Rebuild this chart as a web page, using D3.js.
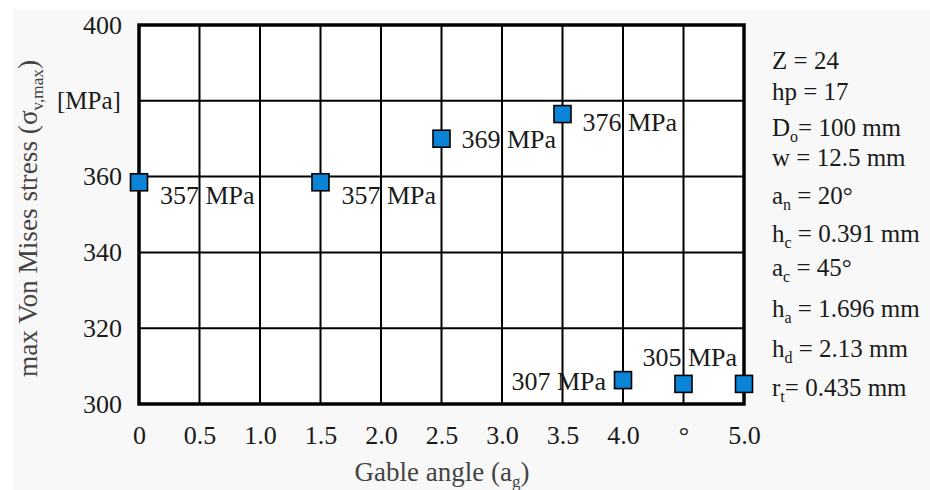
<!DOCTYPE html>
<html>
<head>
<meta charset="utf-8">
<script src="https://cdn.jsdelivr.net/npm/d3@7"></script>
<style>
  body { margin: 0; background: #fff; }
  svg { display: block; }
  svg text { font-family: "Liberation Serif", "Times New Roman", serif; }
</style>
</head>
<body>
<svg id="chart" width="930" height="490"></svg>
<script>
// gable angle vs stress
var angles = [0, 1.5, 2.5, 3.5, 4.0, 4.5, 5.0];
var stress = [358.5, 358.5, 370, 376.5, 306.3, 305.3, 305.3];
var stressLabels = ["357 MPa", "357 MPa", "369 MPa", "376 MPa", "307 MPa", "305 MPa", ""];
var xTicks = [0, 0.5, 1.0, 1.5, 2.0, 2.5, 3.0, 3.5, 4.0, 4.5, 5.0];
var xTickLabels = ["0", "0.5", "1.0", "1.5", "2.0", "2.5", "3.0", "3.5", "4.0", "°", "5.0"];
var yTicks = [300, 320, 340, 360, 380, 400];
var yTickLabels = ["300", "320", "340", "360", "", "400"];
// right side parameters: [main, subscript, rest]
var params = [
  ["Z", "", " = 24"],
  ["hp", "", " = 17"],
  ["D", "o", "= 100 mm"],
  ["w", "", " = 12.5 mm"],
  ["a", "n", " = 20°"],
  ["h", "c", " = 0.391 mm"],
  ["a", "c", " = 45°"],
  ["h", "a", " = 1.696 mm"],
  ["h", "d", " = 2.13 mm"],
  ["r", "t", "= 0.435 mm"]
];
var paramY = [60, 91, 127, 157, 195, 233, 267, 308, 348, 387];

var svg = d3.select("#chart");
var margin = {top: 25, left: 139, right: 186, bottom: 86};
var width = 930 - margin.left - margin.right,
    height = 490 - margin.top - margin.bottom;

svg.append("rect").attr("x", 13).attr("y", 10).attr("width", 917).attr("height", 480).attr("fill", "#f8f8f8");

var x = d3.scaleLinear().domain([0, 5]).range([0, width]);
var y = d3.scaleLinear().domain([300, 400]).range([height, 0]);

var g = svg.append("g").attr("transform", "translate(" + margin.left + "," + margin.top + ")");

g.append("rect").attr("width", width).attr("height", height).attr("fill", "#fff");

// grid
g.append("g")
  .selectAll("line")
  .data(xTicks)
  .enter().append("line")
    .attr("x1", d => x(d)).attr("x2", d => x(d))
    .attr("y1", 0).attr("y2", height)
    .attr("stroke", "#000").attr("stroke-width", 2);
g.append("g")
  .selectAll("line")
  .data(yTicks)
  .enter().append("line")
    .attr("y1", d => y(d)).attr("y2", d => y(d))
    .attr("x1", 0).attr("x2", width)
    .attr("stroke", "#000").attr("stroke-width", 2);

g.append("rect").attr("width", width).attr("height", height)
  .attr("fill", "none").attr("stroke", "#000").attr("stroke-width", 3.5);

// axes (labels only)
var xAxis = g.append("g")
  .attr("transform", "translate(0," + height + ")")
  .call(d3.axisBottom(x).tickValues(xTicks).tickSize(0).tickPadding(22)
    .tickFormat((d, i) => xTickLabels[i]));
xAxis.attr("font-family", null).attr("font-size", null);
xAxis.select(".domain").remove();
xAxis.selectAll("text").attr("font-size", 26).attr("fill", "#1a1a1a");

var yAxis = g.append("g")
  .call(d3.axisLeft(y).tickValues(yTicks).tickSize(0).tickPadding(17)
    .tickFormat((d, i) => yTickLabels[i]));
yAxis.attr("font-family", null).attr("font-size", null);
yAxis.select(".domain").remove();
yAxis.selectAll("text").attr("font-size", 26).attr("fill", "#1a1a1a");

// data labels
var labelPos = [
  {dx: 21, dy: 22, anchor: "start"},
  {dx: 21, dy: 22, anchor: "start"},
  {dx: 20, dy: 9, anchor: "start"},
  {dx: 20, dy: 17, anchor: "start"},
  {dx: -17, dy: 10, anchor: "end"},
  {dx: -41, dy: -18, anchor: "start"},
  {dx: 0, dy: 0, anchor: "start"}
];
g.selectAll(".lbl")
  .data(angles)
  .enter().append("text")
    .attr("class", "lbl")
    .attr("x", (d, i) => x(d) + labelPos[i].dx)
    .attr("y", (d, i) => y(stress[i]) + labelPos[i].dy)
    .attr("text-anchor", (d, i) => labelPos[i].anchor)
    .attr("font-size", 26)
    .attr("fill", "#1a1a1a")
    .text((d, i) => stressLabels[i]);

// markers
var s = 17;
g.selectAll(".pt")
  .data(angles)
  .enter().append("rect")
    .attr("class", "pt")
    .attr("x", d => x(d) - s / 2)
    .attr("y", (d, i) => y(stress[i]) - s / 2)
    .attr("width", s).attr("height", s)
    .attr("fill", "#0a84d6")
    .attr("stroke", "#000").attr("stroke-width", 1.6);

// axis titles
var xt = svg.append("text")
  .attr("x", 442).attr("y", 481)
  .attr("text-anchor", "middle")
  .attr("font-size", 27).attr("fill", "#444");
xt.append("tspan").text("Gable angle (a");
xt.append("tspan").attr("font-size", 17).attr("dy", 6).text("g");
xt.append("tspan").attr("dy", -6).text(")");

var yt = svg.append("text")
  .attr("transform", "translate(37,377) rotate(-90)")
  .attr("textLength", 317).attr("lengthAdjust", "spacingAndGlyphs")
  .attr("font-size", 27).attr("fill", "#444");
yt.append("tspan").text("max Von Mises stress (σ");
yt.append("tspan").attr("font-size", 17).attr("dy", 6).text("v,max");
yt.append("tspan").attr("dy", -6).text(")");

svg.append("text").attr("x", 57).attr("y", 109)
  .attr("font-size", 25).attr("fill", "#1a1a1a").text("[MPa]");

// parameter list
params.forEach(function(p, i) {
  var t = svg.append("text").attr("x", 772).attr("y", paramY[i] + 9)
    .attr("font-size", 25).attr("fill", "#1a1a1a");
  t.append("tspan").text(p[0]);
  if (p[1]) {
    t.append("tspan").attr("font-size", 16).attr("dy", 6).text(p[1]);
    t.append("tspan").attr("dy", -6).text(p[2]);
  } else {
    t.append("tspan").text(p[2]);
  }
});
</script>
</body>
</html>
